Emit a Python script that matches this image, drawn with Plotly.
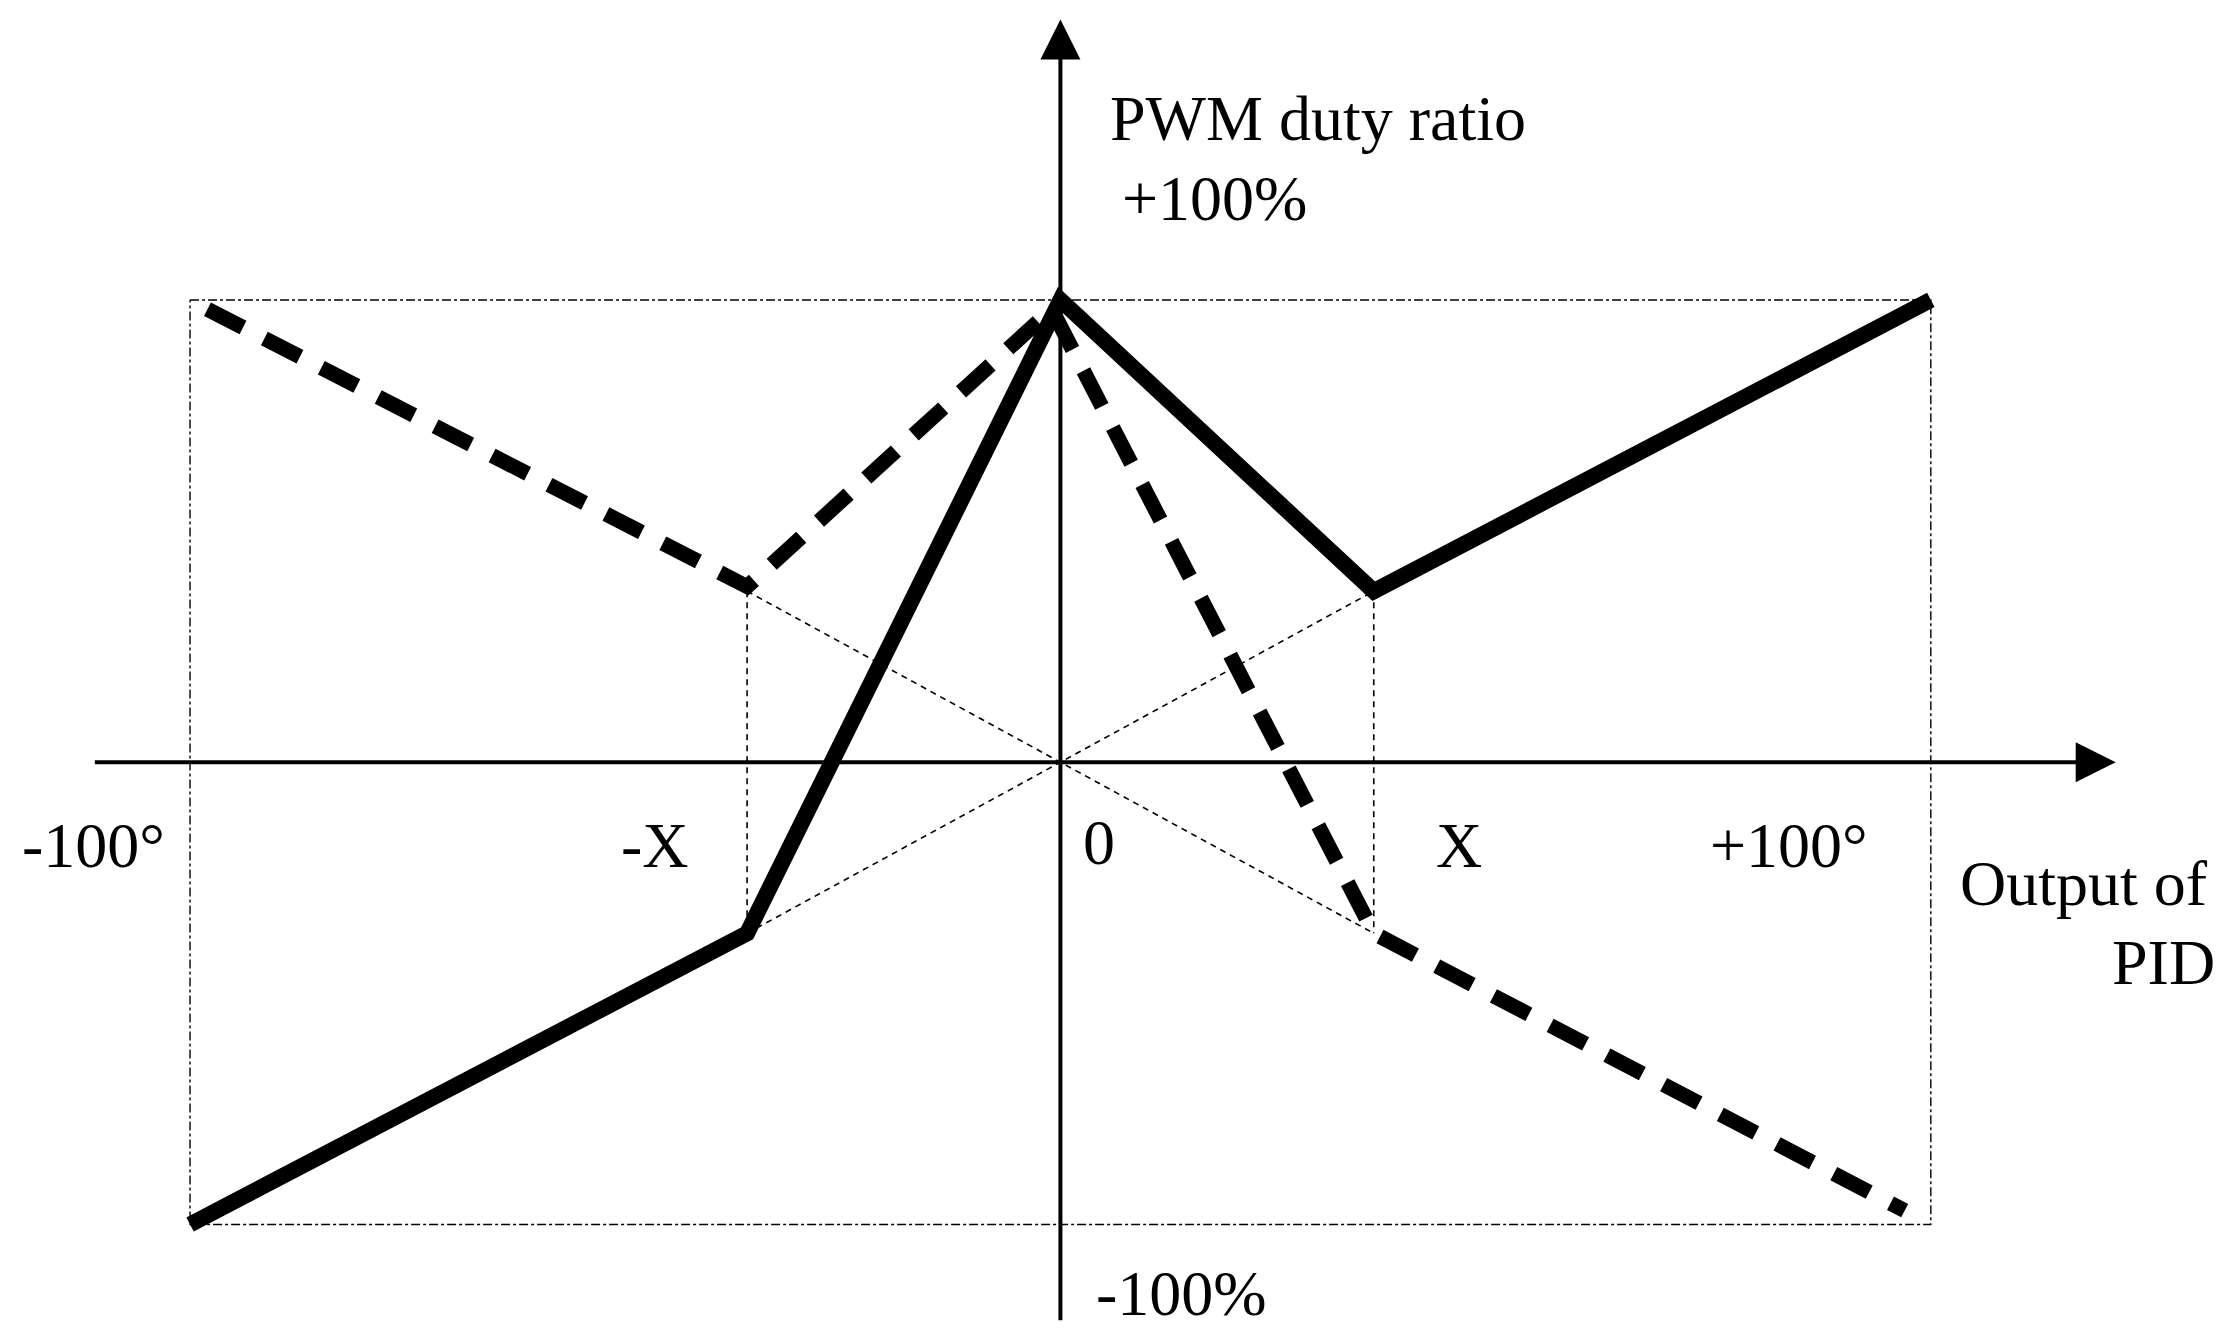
import plotly.graph_objects as go

X = 36
solid_x = [-100, -X, 0, X, 100]
solid_y = [-100, -37, 100, 37, 100]
dash_x = [-98, -X, -1, X, 97]
dash_y = [98, 38, 98, -37, -97]
box_x = [-100, 100, 100, -100, -100]
box_y = [100, 100, -100, -100, 100]

W, H = 2230, 1331
def px(u): return (u - 740) / 6.12
def py(v): return (527 - v) / 3.23

fig = go.Figure()
thin = dict(color="black", width=1.6, dash="6px,5px")
fig.add_trace(go.Scatter(x=box_x, y=box_y, mode="lines",
    line=dict(color="black", width=1.4, dash="dashdot")))
fig.add_trace(go.Scatter(x=[-X, X], y=[37, -37], mode="lines", line=thin))
fig.add_trace(go.Scatter(x=[-X, X], y=[-37, 37], mode="lines", line=thin))
fig.add_trace(go.Scatter(x=[-X, -X], y=[37, -37], mode="lines", line=thin))
fig.add_trace(go.Scatter(x=[X, X], y=[37, -37], mode="lines", line=thin))
fig.add_trace(go.Scatter(x=dash_x, y=dash_y, mode="lines",
    line=dict(color="black", width=15, dash="40px,24px")))
fig.add_trace(go.Scatter(x=solid_x, y=solid_y, mode="lines",
    line=dict(color="black", width=16)))

font = dict(family="Liberation Serif, Times New Roman, serif", size=64, color="black")
anns = []
anns.append(dict(x=px(1482), y=0, ax=px(60), ay=0, xref="x", yref="y", axref="x", ayref="y",
    showarrow=True, arrowhead=2, arrowsize=2, arrowwidth=4, arrowcolor="black", text=""))
anns.append(dict(x=0, y=py(8), ax=0, ay=py(918), xref="x", yref="y", axref="x", ayref="y",
    showarrow=True, arrowhead=2, arrowsize=2, arrowwidth=4, arrowcolor="black", text=""))
labels = [("PWM duty ratio", 921, 77, "center"), ("+100%", 848, 133, "center"),
          ("-100°", 60, 585, "center"), ("-X", 455, 585, "center"), ("0", 767, 583, "center"),
          ("X", 1020, 585, "center"), ("+100°", 1252, 585, "center"),
          ("Output of", 1460, 612, "center"), ("PID", 1460, 667, "right"), ("-100%", 825, 898, "center")]
for t, u, v, al in labels:
    xx = px(1553) if al == "right" else px(u)
    anns.append(dict(x=xx, y=py(v), xref="x", yref="y", text=t, showarrow=False, font=font,
                     xanchor="right" if al == "right" else "center", yanchor="middle"))

fig.update_layout(width=W, height=H, margin=dict(l=0, r=0, t=0, b=0),
    plot_bgcolor="white", paper_bgcolor="white", showlegend=False, annotations=anns,
    xaxis=dict(range=[px(0), px(1568)], visible=False),
    yaxis=dict(range=[py(930), py(0)], visible=False))
fig.write_html("out.html")
